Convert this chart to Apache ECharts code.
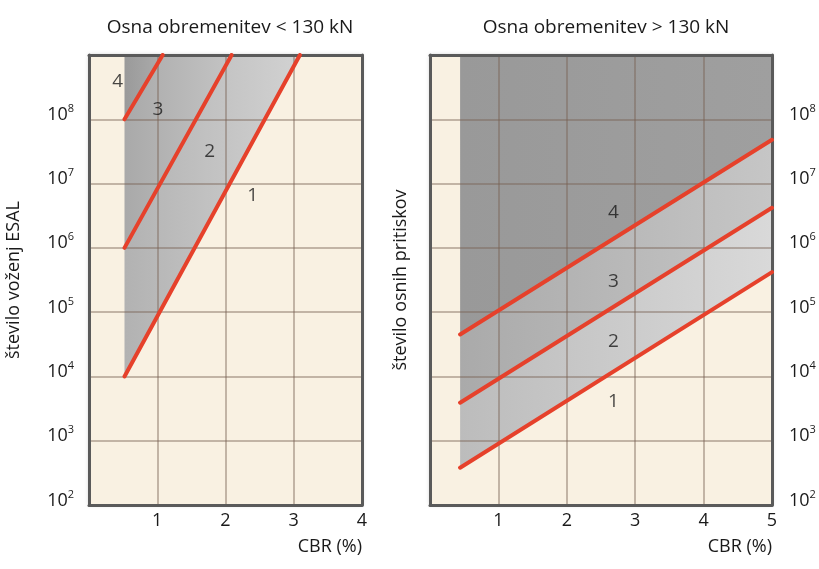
<!DOCTYPE html>
<html>
<head>
<meta charset="utf-8">
<script src="https://cdn.jsdelivr.net/npm/echarts@6/dist/echarts.min.js"></script>
<style>
html,body{margin:0;padding:0;background:#fff;}
#chart{width:819px;height:569px;}
</style>
</head>
<body>
<div id="chart"></div>
<script>
// ---------- data ----------
const titleLeft = 'Osna obremenitev < 130 kN';
const titleRight = 'Osna obremenitev > 130 kN';
const yNameLeft = 'število voženj ESAL';
const yNameRight = 'število osnih pritiskov';
const xName = 'CBR (%)';

const xTicksLeft = [1, 2, 3, 4];
const xTicksRight = [1, 2, 3, 4, 5];
const yTickExp = [2, 3, 4, 5, 6, 7, 8];

// left panel boundary lines [CBR, count]
const leftLine1 = [[0.52, 1e4], [3.09, 1e9]];
const leftLine2 = [[0.52, 1e6], [2.09, 1e9]];
const leftLine3 = [[0.52, 1e8], [1.08, 1e9]];

// right panel boundary lines [CBR, count]
const rightLine1 = [[0.44, 380], [5, 4.2e5]];
const rightLine2 = [[0.44, 3900], [5, 4.2e6]];
const rightLine3 = [[0.44, 4.5e4], [5, 4.8e7]];

// region labels
const leftLabelNames = ['4', '3', '2', '1'];
const leftLabelX = [0.42, 1.01, 1.77, 2.40];
const leftLabelY = [3.8e8, 1.4e8, 3.1e7, 6.6e6];
const rightLabelNames = ['4', '3', '2', '1'];
const rightLabelX = [2.68, 2.68, 2.68, 2.68];
const rightLabelY = [3.5e6, 3.0e5, 3.5e4, 4.0e3];

const yMin = 1e2, yMax = 1e9;

// ---------- style ----------
const FONT = 'Open Sans';
const BEIGE = '#f9f1e2';
const FRAME = '#5a5a5a';
const GRIDC = 'rgba(120,95,80,0.42)';
const RED = '#e6412b';
const TXT = '#1a1a1a';

const chart = echarts.init(document.getElementById('chart'));

function grad(c0, c1) {
  return new echarts.graphic.LinearGradient(0, 0, 1, 0, [
    {offset: 0, color: c0}, {offset: 1, color: c1}
  ]);
}

function polySeries(xi, yi, pts, c0, c1) {
  return {
    type: 'custom', xAxisIndex: xi, yAxisIndex: yi, z: 1, silent: true,
    data: [[1, 1000]],
    renderItem: function (params, api) {
      return {
        type: 'polygon',
        shape: {points: pts.map(p => api.coord(p))},
        style: {fill: grad(c0, c1)}
      };
    }
  };
}

function lineSeries(xi, yi, d) {
  return {
    type: 'line', xAxisIndex: xi, yAxisIndex: yi, z: 3, silent: true,
    data: d, symbol: 'none',
    lineStyle: {color: RED, width: 4, cap: 'round'}
  };
}

function labelSeries(xi, yi, names, xs, ys) {
  return {
    type: 'scatter', xAxisIndex: xi, yAxisIndex: yi, z: 4, silent: true,
    symbolSize: 0,
    data: names.map((n, i) => ({name: n, value: [xs[i], ys[i]]})),
    label: {show: true, position: 'inside', formatter: '{b}',
      fontFamily: FONT, fontSize: 19, color: TXT}
  };
}

function yLabelFmt(v) {
  const e = Math.round(Math.log10(v));
  return yTickExp.indexOf(e) >= 0 ? '{b|10}{s|' + e + '}' : '';
}
const yRich = {
  b: {fontFamily: FONT, fontSize: 18, color: TXT, lineHeight: 23},
  s: {fontFamily: FONT, fontSize: 11, color: TXT, lineHeight: 14, verticalAlign: 'top'}
};

function xAxisMain(gi, max, ticks) {
  return {
    type: 'value', gridIndex: gi, min: 0, max: max, interval: 1, position: 'bottom', z: 2,
    axisLine: {show: true, onZero: false, lineStyle: {color: FRAME, width: 3}},
    axisTick: {show: false},
    splitLine: {show: true, lineStyle: {color: GRIDC, width: 2}},
    axisLabel: {
      margin: 7, fontFamily: FONT, fontSize: 18, color: TXT,
      formatter: v => ticks.indexOf(v) >= 0 ? String(v) : ''
    },
    name: xName, nameLocation: 'end', nameGap: 0,
    nameTextStyle: {fontFamily: FONT, fontSize: 18, color: TXT,
      align: 'right', verticalAlign: 'top', padding: [33, 0, 0, 0]}
  };
}
function xAxisTop(gi, max) {
  return {
    type: 'value', gridIndex: gi, min: 0, max: max, interval: 1, position: 'top', z: 2,
    axisLine: {show: true, onZero: false, lineStyle: {color: FRAME, width: 3}},
    axisTick: {show: false}, axisLabel: {show: false}, splitLine: {show: false}
  };
}
function yAxisMain(gi, pos, name, nameGap) {
  const a = {
    type: 'log', logBase: 10, gridIndex: gi, min: yMin, max: yMax, splitNumber: 7,
    position: pos, z: 2,
    axisLine: {show: true, onZero: false, lineStyle: {color: FRAME, width: 3}},
    axisTick: {show: false},
    minorSplitLine: {show: false},
    splitLine: {show: true, lineStyle: {color: GRIDC, width: 2}},
    axisLabel: {margin: pos === 'left' ? 15 : 17, formatter: yLabelFmt, rich: yRich,
      padding: [0, 0, 9, 0]}
  };
  if (name) {
    a.name = name; a.nameLocation = 'middle'; a.nameGap = nameGap;
    a.nameTextStyle = {fontFamily: FONT, fontSize: 18, color: TXT};
  }
  return a;
}
function yAxisPlain(gi, pos, name, nameGap) {
  const a = {
    type: 'log', logBase: 10, gridIndex: gi, min: yMin, max: yMax, splitNumber: 7,
    position: pos, z: 2,
    axisLine: {show: true, onZero: false, lineStyle: {color: FRAME, width: 3}},
    axisTick: {show: false}, axisLabel: {show: false}, splitLine: {show: false}
  };
  if (name) {
    a.name = name; a.nameLocation = 'middle'; a.nameGap = nameGap;
    a.nameTextStyle = {fontFamily: FONT, fontSize: 18, color: TXT};
  }
  return a;
}

const L = [leftLine1, leftLine2, leftLine3];
const R = [rightLine1, rightLine2, rightLine3];

const series = [
  // left panel regions
  polySeries(0, 0, [L[0][0], L[0][1], L[1][1], L[1][0]], '#b2b2b2', '#d2d2d2'),
  polySeries(0, 0, [L[1][0], L[1][1], L[2][1], L[2][0]], '#a9a9a9', '#c4c4c4'),
  polySeries(0, 0, [L[2][0], L[2][1], [L[2][0][0], yMax]], '#9a9a9a', '#acacac'),
  // right panel regions
  polySeries(1, 1, [R[0][0], R[0][1], R[1][1], R[1][0]], '#bcbcbc', '#d9d9d9'),
  polySeries(1, 1, [R[1][0], R[1][1], R[2][1], R[2][0]], '#aaaaaa', '#c6c6c6'),
  polySeries(1, 1, [R[2][0], R[2][1], [R[2][1][0], yMax], [R[2][0][0], yMax]], '#999999', '#9f9f9f'),
  // lines
  lineSeries(0, 0, leftLine1), lineSeries(0, 0, leftLine2), lineSeries(0, 0, leftLine3),
  lineSeries(1, 1, rightLine1), lineSeries(1, 1, rightLine2), lineSeries(1, 1, rightLine3),
  // labels
  labelSeries(0, 0, leftLabelNames, leftLabelX, leftLabelY),
  labelSeries(1, 1, rightLabelNames, rightLabelX, rightLabelY)
];

const option = {
  animation: false,
  backgroundColor: '#ffffff',
  title: [
    {text: titleLeft, left: 225, top: 13, textAlign: 'center',
      textStyle: {fontFamily: FONT, fontSize: 19, fontWeight: 'normal', color: TXT}},
    {text: titleRight, left: 601, top: 13, textAlign: 'center',
      textStyle: {fontFamily: FONT, fontSize: 19, fontWeight: 'normal', color: TXT}}
  ],
  grid: [
    {left: 89, top: 55, width: 273, height: 450, show: true, backgroundColor: BEIGE, borderWidth: 0,
      shadowBlur: 4, shadowColor: 'rgba(0,0,0,0.25)'},
    {left: 430, top: 55, width: 342, height: 450, show: true, backgroundColor: BEIGE, borderWidth: 0,
      shadowBlur: 4, shadowColor: 'rgba(0,0,0,0.25)'}
  ],
  xAxis: [
    xAxisMain(0, 4, xTicksLeft),
    xAxisMain(1, 5, xTicksRight),
    xAxisTop(0, 4),
    xAxisTop(1, 5)
  ],
  yAxis: [
    yAxisMain(0, 'left', yNameLeft, 66),
    yAxisMain(1, 'right', null, 0),
    yAxisPlain(0, 'right', null, 0),
    yAxisPlain(1, 'left', yNameRight, 20)
  ],
  series: series
};
chart.setOption(option);
</script>
</body>
</html>
